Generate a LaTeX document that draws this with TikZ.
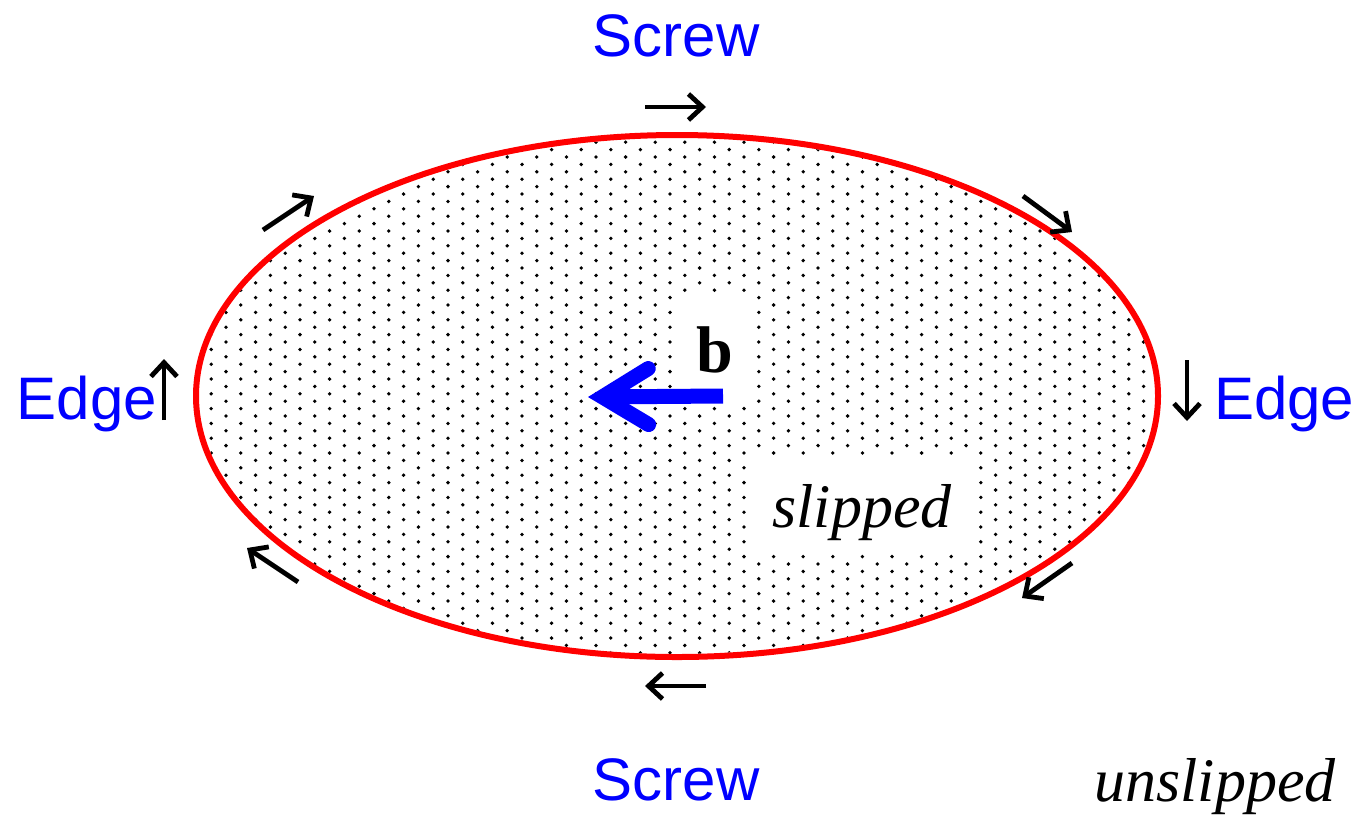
\documentclass[tikz,border=0pt]{standalone}
\usepackage{fontspec}
\setmainfont{Liberation Serif}
\setsansfont{Liberation Sans}
\usepackage{xcolor}
\usetikzlibrary{arrows.meta, positioning}

\begin{document}
\begin{tikzpicture}[
    x=1pt, y=-1pt,
    kind/.style={font=\sffamily\fontsize{60}{60}\selectfont, text=blue, inner sep=0pt},
    region/.style={font=\itshape\fontsize{62}{62}\selectfont, inner sep=0pt},
    linesense/.style={-{Straight Barb[length=14pt, width=26pt]}, line width=4.8pt, black},
    burgers/.style={-{Straight Barb[length=46pt, width=56pt, line cap=round]}, line width=15pt, blue}
]
\useasboundingbox (0,0) rectangle (1356,815);

% slipped area: dotted inside the loop
\coordinate (ctr) at (677,396);
\begin{scope}
  \clip (ctr) ellipse [x radius=478, y radius=258];
  \foreach \i in {-2,...,64}
    \foreach \j in {0,...,36}
      \fill ({211.2+14.8*\i}, {127.4+14.8*\j+7.4*mod(\i+2,2)}) circle (1.9);
\end{scope}

% dislocation loop
\draw[red, line width=6pt] (ctr) ellipse [x radius=481, y radius=261];

% labels
\node[kind, anchor=base] (screwtop) at (676,56) {Screw};
\node[kind, anchor=base] (screwbot) at (676,800) {Screw};
\node[kind, anchor=base east] (edgeleft) at (157,419) {Edge};
\node[kind, anchor=base west] (edgeright) at (1214,419) {Edge};
\node[region, anchor=base, fill=white, text height=71pt, text depth=25pt, minimum width=232pt] (slipped) at (862,527) {slipped};
\node[region, anchor=base] (unslipped) at (1215,801) {unslipped};
\node[font=\bfseries\fontsize{66}{66}\selectfont, anchor=base, fill=white, inner sep=0pt, text height=78pt, text depth=32pt, minimum width=79pt] (bvec) at (715,372) {b};

% Burgers vector
\coordinate (btail) at (723,396);
\coordinate (btip) at (588,397);
\draw[burgers] (btail) -- (btip);

% line sense around the loop
\coordinate (a1) at (645,107);  \coordinate (b1) at (706,107);
\coordinate (a2) at (1023,196); \coordinate (b2) at (1072,232);
\coordinate (a3) at (1187,360); \coordinate (b3) at (1187,421);
\coordinate (a4) at (1072,563); \coordinate (b4) at (1022,598);
\coordinate (a5) at (706,686);  \coordinate (b5) at (645,686);
\coordinate (a6) at (298,582);  \coordinate (b6) at (247,548);
\coordinate (a7) at (164,420);  \coordinate (b7) at (164,359);
\coordinate (a8) at (263,230);  \coordinate (b8) at (314,196);
\foreach \k in {1,...,8}
  \draw[linesense] (a\k) -- (b\k);

\end{tikzpicture}
\end{document}
